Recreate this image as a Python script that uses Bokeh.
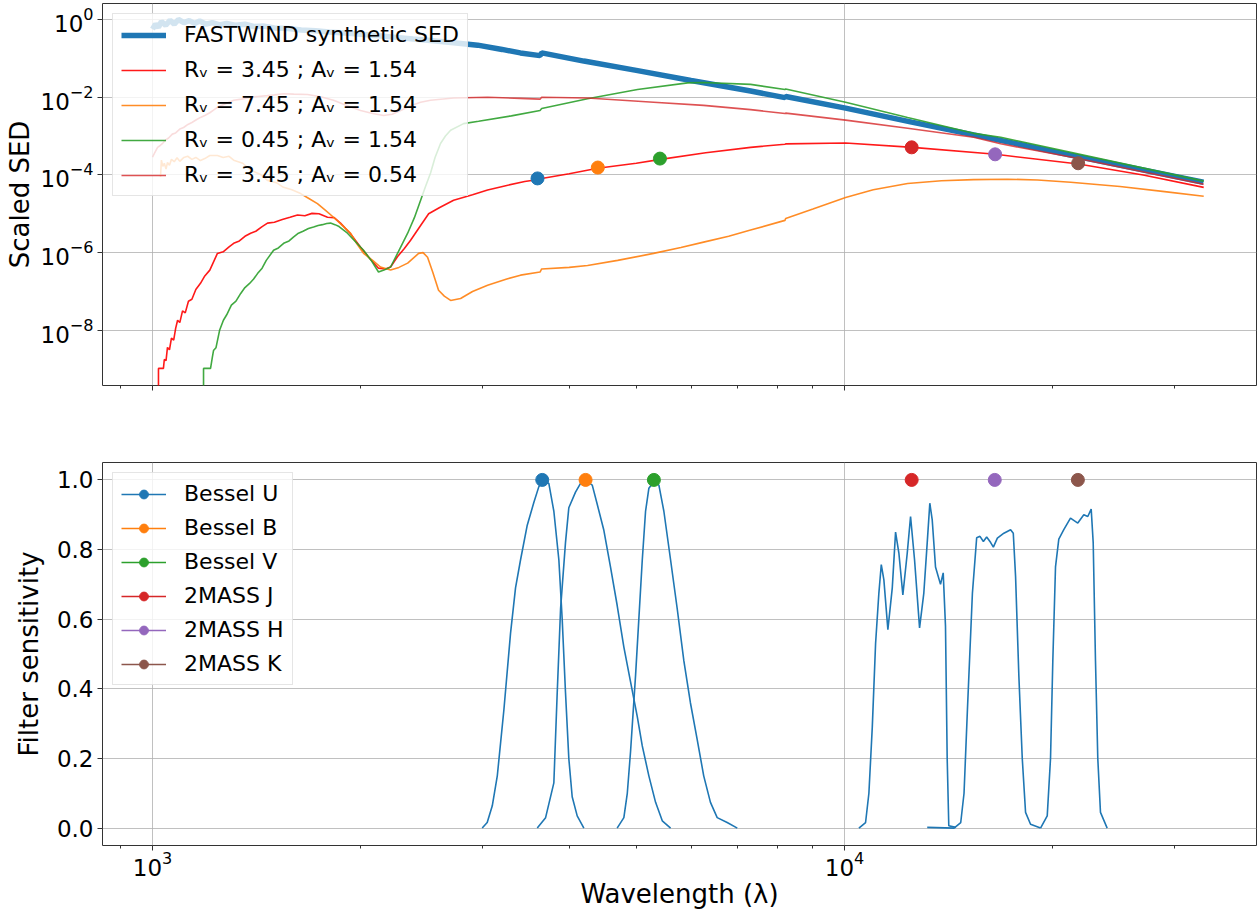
import numpy as np
from bokeh.plotting import figure
from bokeh.models import (Range1d, FixedTicker, Legend, LegendItem,
                          CustomJSTickFormatter)
from bokeh.layouts import column
from bokeh.embed import file_html
from bokeh.resources import INLINE

# ---------------- data (wavelength in Angstrom) ----------------
# FASTWIND synthetic SED (log10 of scaled flux)
fw_wl = [1000, 1010, 1020, 1030, 1045, 1060, 1075, 1090, 1110, 1130, 1150, 1170,
         1195, 1220, 1250, 1280, 1320, 1360, 1400, 1450, 1500, 1570, 1640, 1720,
         1800, 1900, 2000, 2120, 2250, 2380, 2520, 2700, 2950, 3200, 3400, 3630,
         3650, 4200, 5000, 6000, 7314, 8200, 8220, 10033, 12500, 16800, 21200, 33000]
fw_log = [-0.25, -0.12, -0.2, -0.05, -0.15, -0.02, -0.12, 0.0, -0.08, -0.03, -0.1, -0.04,
          -0.12, -0.08, -0.14, -0.1, -0.15, -0.12, -0.18, -0.17, -0.22, -0.23, -0.27, -0.29,
          -0.32, -0.35, -0.38, -0.42, -0.46, -0.5, -0.54, -0.59, -0.66, -0.77, -0.86, -0.93,
          -0.86, -1.07, -1.31, -1.57, -1.84, -2.01, -1.98, -2.28, -2.64, -3.11, -3.49, -4.19]

# R_V = 3.45 ; A_V = 1.54
r1_wl = [1020, 1020, 1030, 1037, 1040, 1046, 1051, 1058, 1065, 1073, 1080, 1087, 1095,
         1105, 1115, 1127, 1140, 1155, 1173, 1190, 1210, 1241, 1265, 1290, 1310, 1335,
         1360, 1386, 1410, 1440, 1466, 1500, 1540, 1580, 1620, 1660, 1700, 1740, 1790,
         1830, 1869, 1930, 1998, 2060, 2121, 2170, 2208, 2260, 2310, 2360, 2440, 2506,
         2600, 2723, 2900, 3049, 3250, 3450, 3630, 3650, 4000, 4396, 5000, 5421, 6300,
         7314, 8200, 8220, 10033, 12538, 16530, 21785, 27000, 33029]
r1_log = [-10.5, -8.98, -8.98, -8.98, -8.75, -8.78, -8.44, -8.5, -8.2, -8.25, -7.95, -7.74, -7.8,
          -7.5, -7.55, -7.25, -7.2, -6.95, -6.79, -6.6, -6.45, -6.02, -5.98, -5.85, -5.76, -5.7,
          -5.58, -5.5, -5.45, -5.33, -5.24, -5.22, -5.15, -5.09, -5.03, -5.05, -4.99, -5.0, -5.09,
          -5.1, -5.24, -5.5, -5.86, -6.15, -6.4, -6.42, -6.37, -6.1, -5.9, -5.68, -5.3, -5.0,
          -4.84, -4.65, -4.51, -4.39, -4.27, -4.17, -4.11, -4.09, -3.97, -3.83, -3.7, -3.6, -3.43,
          -3.29, -3.21, -3.2, -3.18, -3.29, -3.47, -3.72, -4.0, -4.32]

# R_V = 7.45 ; A_V = 1.54
r2_wl = [1027, 1030, 1035, 1040, 1046, 1051, 1058, 1065, 1075, 1085, 1095, 1110, 1124,
         1140, 1155, 1173, 1190, 1210, 1241, 1265, 1290, 1310, 1350, 1386, 1430, 1466,
         1510, 1546, 1590, 1637, 1680, 1731, 1780, 1826, 1880, 1932, 1975, 2018, 2080,
         2135, 2208, 2270, 2337, 2424, 2460, 2497, 2540, 2590, 2640, 2696, 2787, 2900,
         3049, 3250, 3402, 3630, 3650, 4000, 4252, 4700, 5297, 5800, 6256, 6800, 7314,
         8200, 8220, 9000, 10033, 11000, 12332, 13800, 15362, 17203, 19000, 21213, 25000,
         29000, 33029]
r2_log = [-4.05, -3.62, -3.78, -3.7, -3.85, -3.68, -3.75, -3.6, -3.66, -3.56, -3.65, -3.55, -3.52,
          -3.6, -3.55, -3.63, -3.58, -3.5, -3.5, -3.55, -3.52, -3.62, -3.7, -3.88, -3.98, -4.14,
          -4.2, -4.32, -4.38, -4.48, -4.6, -4.74, -4.92, -5.09, -5.3, -5.5, -5.78, -6.02, -6.2,
          -6.37, -6.45, -6.38, -6.27, -6.02, -6.0, -6.12, -6.5, -6.97, -7.12, -7.23, -7.18, -7.0,
          -6.84, -6.68, -6.58, -6.5, -6.42, -6.38, -6.33, -6.2, -6.02, -5.87, -5.73, -5.58, -5.42,
          -5.17, -5.12, -4.88, -4.58, -4.38, -4.22, -4.15, -4.12, -4.11, -4.13, -4.19, -4.3,
          -4.43, -4.55]

# R_V = 0.45 ; A_V = 1.54
r3_wl = [1185, 1185, 1200, 1213, 1220, 1225, 1235, 1250, 1266, 1280, 1300, 1320, 1341,
         1360, 1380, 1400, 1418, 1440, 1460, 1496, 1520, 1550, 1575, 1598, 1625, 1650,
         1680, 1709, 1735, 1760, 1785, 1808, 1835, 1860, 1913, 1960, 2018, 2070, 2121,
         2160, 2208, 2270, 2337, 2390, 2440, 2480, 2522, 2560, 2607, 2650, 2696, 2815,
         2959, 3300, 3630, 3650, 4252, 5021, 5932, 6256, 7314, 8200, 8220, 10033, 12332,
         15362, 16807, 21213, 33029]
r3_log = [-10.5, -8.98, -8.98, -8.98, -8.7, -8.52, -8.45, -8.0, -7.74, -7.6, -7.35, -7.25, -7.05,
          -6.9, -6.8, -6.68, -6.54, -6.4, -6.2, -5.94, -5.88, -5.75, -5.7, -5.6, -5.5, -5.45,
          -5.38, -5.34, -5.3, -5.28, -5.25, -5.24, -5.28, -5.33, -5.5, -5.7, -5.94, -6.2, -6.5,
          -6.45, -6.37, -5.95, -5.5, -5.1, -4.65, -4.3, -3.95, -3.55, -3.19, -3.0, -2.85, -2.68,
          -2.62, -2.48, -2.34, -2.29, -2.04, -1.8, -1.63, -1.62, -1.67, -1.8, -1.79, -2.13, -2.52,
          -2.93, -3.03, -3.42, -4.16]

# R_V = 3.45 ; A_V = 0.54
r4_wl = [1000, 1008, 1017, 1025, 1035, 1045, 1055, 1068, 1080, 1095, 1109, 1125, 1140,
         1157, 1173, 1190, 1210, 1225, 1241, 1270, 1310, 1345, 1386, 1420, 1466, 1500,
         1546, 1600, 1675, 1750, 1826, 1900, 1998, 2080, 2157, 2220, 2283, 2360, 2440,
         2522, 2723, 3049, 3400, 3630, 3650, 4252, 5297, 6256, 7314, 8200, 8220, 10033,
         12332, 15362, 16807, 21213, 33029]
r4_log = [-3.54, -3.42, -3.29, -3.25, -3.18, -3.1, -3.05, -2.95, -2.92, -2.82, -2.78, -2.7, -2.65,
          -2.58, -2.52, -2.47, -2.4, -2.33, -2.26, -2.18, -2.08, -2.05, -2.0, -1.98, -1.96, -1.94,
          -1.91, -1.92, -1.93, -1.99, -2.08, -2.2, -2.34, -2.42, -2.47, -2.44, -2.34, -2.22, -2.13,
          -2.08, -2.02, -2.0, -2.03, -2.05, -2.0, -2.02, -2.13, -2.21, -2.32, -2.42, -2.41, -2.59,
          -2.8, -3.03, -3.2, -3.54, -4.24]

sed_labels = ["FASTWIND synthetic SED",
              "Rᵥ = 3.45 ; Aᵥ = 1.54",
              "Rᵥ = 7.45 ; Aᵥ = 1.54",
              "Rᵥ = 0.45 ; Aᵥ = 1.54",
              "Rᵥ = 3.45 ; Aᵥ = 0.54"]

# synthetic photometry points on the reddened SED
phot_wl = [3600, 4400, 5410, 12500, 16500, 21750]
phot_log = [-4.09, -3.81, -3.58, -3.29, -3.47, -3.70]

# filter names / colors
filter_names = ["Bessel U", "Bessel B", "Bessel V", "2MASS J", "2MASS H", "2MASS K"]
filter_colors = ["#1f77b4", "#ff7f0e", "#2ca02c", "#d62728", "#9467bd", "#8c564b"]
filter_peak_wl = [3657, 4224, 5302, 12500, 16480, 21730]
filter_peak_val = [1.0, 1.0, 1.0, 1.0, 1.0, 1.0]

# filter transmission curves
u_wl = [2995, 3045, 3097, 3149, 3219, 3291, 3346, 3402, 3479, 3556, 3615, 3657, 3738,
        3801, 3865, 3908, 3951, 3995, 4040, 4108, 4200]
u_tr = [0.0, 0.016, 0.064, 0.15, 0.34, 0.56, 0.69, 0.77, 0.87, 0.935, 0.98, 0.995, 0.99,
        0.91, 0.77, 0.6, 0.39, 0.2, 0.09, 0.035, 0.0]
b_wl = [3597, 3698, 3801, 3844, 3887, 3951, 3995, 4085, 4154, 4224, 4319, 4391, 4487,
        4589, 4692, 4798, 4906, 5017, 5101, 5214, 5332, 5452, 5605]
b_tr = [0.0, 0.03, 0.13, 0.39, 0.63, 0.82, 0.92, 0.965, 0.99, 0.998, 0.985, 0.93, 0.857,
        0.75, 0.64, 0.52, 0.42, 0.32, 0.236, 0.15, 0.074, 0.021, 0.0]
v_wl = [4692, 4798, 4853, 4906, 4989, 5101, 5157, 5214, 5302, 5391, 5481, 5605, 5730,
        5858, 5987, 6123, 6258, 6400, 6545, 6766, 6998]
v_tr = [0.0, 0.03, 0.10, 0.22, 0.44, 0.77, 0.91, 0.976, 0.995, 0.985, 0.91, 0.77, 0.63,
        0.48, 0.36, 0.255, 0.15, 0.074, 0.03, 0.016, 0.0]
j_wl = [10488, 10723, 10842, 10965, 11086, 11208, 11298, 11396, 11549, 11719, 11848, 11979,
        12139, 12318, 12454, 12621, 12833, 13016, 13164, 13278, 13385, 13532, 13759, 13883,
        13989, 14068, 14143, 14475]
j_tr = [0.0, 0.016, 0.10, 0.29, 0.53, 0.675, 0.757, 0.713, 0.57, 0.69, 0.85, 0.79,
        0.67, 0.79, 0.895, 0.77, 0.575, 0.675, 0.82, 0.933, 0.885, 0.75, 0.70, 0.733,
        0.58, 0.2, 0.007, 0.002]
h_wl = [13164, 14393, 14717, 14879, 15048, 15300, 15518, 15690, 15868, 16043, 16258, 16404,
        16624, 16989, 17372, 17528, 17662, 17857, 18060, 18259, 18565, 19192]
h_tr = [0.002, 0.0, 0.016, 0.10, 0.34, 0.675, 0.834, 0.838, 0.823, 0.836, 0.82, 0.807,
        0.833, 0.847, 0.857, 0.847, 0.723, 0.436, 0.2, 0.045, 0.011, 0.0]
k_wl = [19192, 19624, 19840, 19992, 20172, 20394, 20736, 21203, 21724, 22163, 22460, 22715,
        22867, 23042, 23219, 23428, 23955]
k_tr = [0.0, 0.035, 0.2, 0.48, 0.75, 0.83, 0.857, 0.89, 0.876, 0.90, 0.895, 0.916,
        0.82, 0.48, 0.2, 0.045, 0.0]

# axis ticks
x_major_ticks = [1000, 10000]
x_minor_ticks = [900, 2000, 3000, 4000, 5000, 6000, 7000, 8000, 9000, 20000, 30000]
y_top_ticks = [1e-8, 1e-6, 1e-4, 1e-2, 1e0]
y_bottom_ticks = [0.0, 0.2, 0.4, 0.6, 0.8, 1.0]

# ---------------- figures ----------------
FONT = "DejaVu Sans"
x_range = Range1d(846.7, 39370)

p1 = figure(width=1257, height=424, x_axis_type="log", y_axis_type="log",
            x_range=x_range, y_range=Range1d(10 ** -9.42, 10 ** 0.412),
            output_backend="svg", toolbar_location=None,
            min_border_left=102, min_border_right=1, min_border_top=3, min_border_bottom=39)
p2 = figure(width=1257, height=487, x_axis_type="log",
            x_range=x_range, y_range=Range1d(-0.05, 1.05),
            output_backend="svg", toolbar_location=None,
            min_border_left=102, min_border_right=1, min_border_top=38, min_border_bottom=63)

for p in (p1, p2):
    p.background_fill_color = "white"
    p.border_fill_color = "white"
    p.outline_line_color = "#333333"
    p.outline_line_width = 1
    p.grid.grid_line_color = "#b0b0b0"
    p.grid.grid_line_width = 0.8
    p.axis.axis_line_color = None
    p.axis.major_tick_line_color = "#333333"
    p.axis.minor_tick_line_color = "#333333"
    p.axis.major_tick_in = 0
    p.axis.major_tick_out = 5
    p.axis.minor_tick_in = 0
    p.axis.minor_tick_out = 3
    p.axis.major_label_text_font = FONT
    p.axis.major_label_text_font_size = "23px"
    p.axis.major_label_text_color = "black"
    p.axis.axis_label_text_font = FONT
    p.axis.axis_label_text_font_size = "26px"
    p.axis.axis_label_text_font_style = "normal"
    p.axis.axis_label_text_color = "black"
    p.xaxis.ticker = FixedTicker(ticks=x_major_ticks, minor_ticks=x_minor_ticks)
    p.yaxis.major_label_standoff = 4

p1.yaxis.ticker = FixedTicker(ticks=y_top_ticks)
p1.yaxis.axis_label = "Scaled SED"
p1.yaxis.axis_label_standoff = 3
p1.xaxis.formatter = CustomJSTickFormatter(code="return ''")
p1.xaxis.major_label_standoff = 0

p2.yaxis.ticker = FixedTicker(ticks=y_bottom_ticks)
p2.yaxis.formatter = CustomJSTickFormatter(code="return tick.toFixed(1)")
p2.yaxis.axis_label = "Filter sensitivity"
p2.yaxis.axis_label_standoff = 10
p2.xaxis.axis_label = "Wavelength (λ)"
p2.xaxis.major_label_standoff = 0
p2.xaxis.axis_label_standoff = 0

# ---------------- top panel ----------------
sed_sets = [(fw_wl, fw_log, "#1f77b4", 5.5, 1.0),
            (r1_wl, r1_log, "#ff0000", 1.6, 0.9),
            (r2_wl, r2_log, "#ff7f0e", 1.6, 0.9),
            (r3_wl, r3_log, "#2ca02c", 1.6, 0.9),
            (r4_wl, r4_log, "#d62728", 1.6, 0.8)]
top_items = []
for (wl, lg, col, lw, al), lab in zip(sed_sets, sed_labels):
    r = p1.line(wl, list(np.power(10.0, lg)), line_color=col, line_width=lw, line_alpha=al)
    top_items.append(LegendItem(label=lab, renderers=[r]))

for wl, lg, col in zip(phot_wl, phot_log, filter_colors):
    p1.scatter([wl], [10 ** lg], size=13, fill_color=col, line_color=col, marker="circle")

leg1 = Legend(items=top_items, location="top_left")
p1.add_layout(leg1)

# ---------------- bottom panel ----------------
for wl, tr in [(u_wl, u_tr), (b_wl, b_tr), (v_wl, v_tr), (j_wl, j_tr), (h_wl, h_tr), (k_wl, k_tr)]:
    p2.line(wl, tr, line_color="#1f77b4", line_width=1.6)

bot_items = []
for name, col, wl, val in zip(filter_names, filter_colors, filter_peak_wl, filter_peak_val):
    rl = p2.line([wl], [val], line_color=col, line_width=1.6)
    rs = p2.scatter([wl], [val], size=13, fill_color=col, line_color=col, marker="circle")
    bot_items.append(LegendItem(label=name, renderers=[rl, rs]))

leg2 = Legend(items=bot_items, location="top_left")
p2.add_layout(leg2)

for lg in (leg1, leg2):
    lg.label_text_font = FONT
    lg.label_text_font_size = "22px"
    lg.label_text_color = "black"
    lg.glyph_width = 45
    lg.glyph_height = 22
    lg.label_height = 22
    lg.label_standoff = 18
    lg.spacing = 10
    lg.padding = 8
    lg.margin = 10
    lg.border_line_color = "#cccccc"
    lg.background_fill_color = "white"
    lg.background_fill_alpha = 0.8
leg2.spacing = 9

layout = column(p1, p2)
open("out.html", "w").write(file_html(layout, INLINE))
